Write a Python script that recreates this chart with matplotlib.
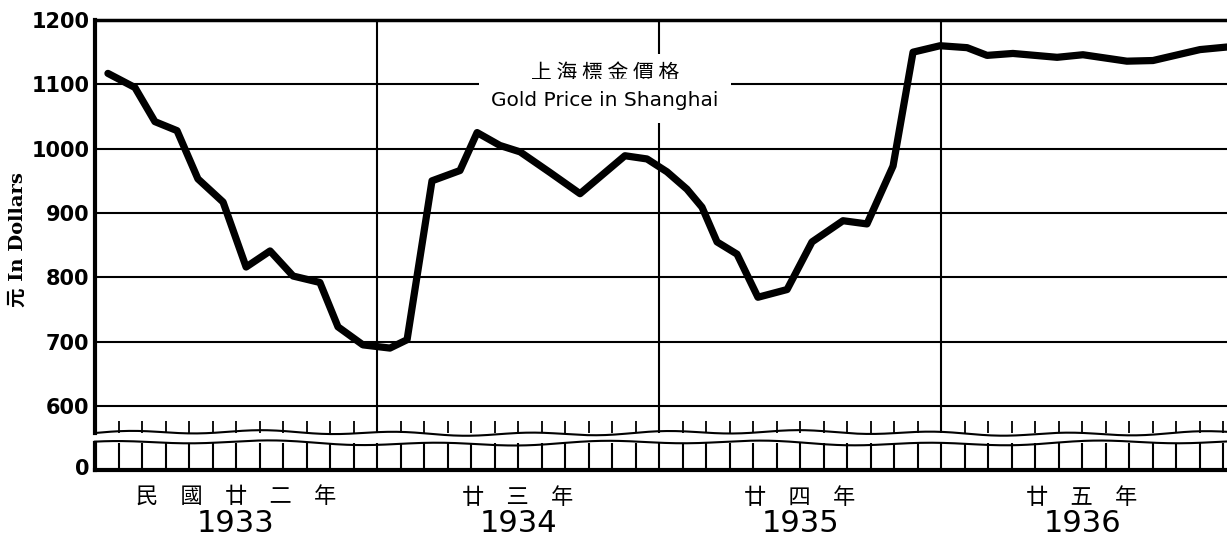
import numpy as np
import matplotlib.pyplot as plt

# months counted from Jan 1933 (fractional), price in dollars
months = [0.55, 1.70, 2.55, 3.49, 4.38, 5.45, 6.43, 7.45, 8.43, 9.57,
          10.34, 11.40, 12.55, 13.28, 14.34, 15.53, 16.26, 17.23, 18.09, 19.36,
          20.64, 22.55, 23.49, 24.34, 25.19, 25.83, 26.47, 27.32, 28.21, 29.45,
          30.51, 31.83, 32.85, 33.96, 34.81, 35.96, 37.11, 37.96, 39.06, 40.94,
          42.04, 43.91, 45.02, 47.02, 48.17]
prices = [1117, 1095, 1042, 1028, 953, 917, 816, 841, 802, 792,
          723, 695, 690, 703, 950, 966, 1025, 1005, 995, 963,
          930, 989, 984, 964, 937, 909, 855, 836, 769, 781,
          855, 888, 883, 973, 1150, 1160, 1157, 1145, 1148, 1142,
          1146, 1136, 1137, 1154, 1158]

year_mid = [6, 18, 30, 42]
year_cn = ["民　國　廿　二　年", "廿　三　年", "廿　四　年", "廿　五　年"]
year_en = ["1933", "1934", "1935", "1936"]
grid_vals = [600, 700, 800, 900, 1000, 1100, 1200]

W, H = 1227, 539
X_END = 48.17
Y_LOW = 558

fig = plt.figure(figsize=(W / 100, H / 100), dpi=100)
ax = fig.add_axes([95 / W, 1 - 433 / H, 1 - 95 / W, (433 - 20) / H])
axb = fig.add_axes([95 / W, 1 - 470 / H, 1 - 95 / W, 27 / H])

ax.set_xlim(0, X_END)
ax.set_ylim(Y_LOW, 1200)
ax.hlines(grid_vals[:-1], 0, X_END, color="black", lw=1.5)
ax.vlines([12, 24, 36], Y_LOW, 1200, color="black", lw=1.5)
ax.vlines(range(1, 49), Y_LOW, Y_LOW + 18, color="black", lw=1.3)

# wavy break line
xw = np.linspace(0, X_END, 500)
ax.plot(xw, Y_LOW + 2.5 * np.sin(xw * 1.1) + 2 * np.sin(xw * 0.27),
        color="black", lw=1.5, clip_on=False)

ax.plot(months, prices, color="black", lw=5.2,
        solid_joinstyle="round", solid_capstyle="round")

for s in ["right", "bottom"]:
    ax.spines[s].set_visible(False)
ax.spines["top"].set_linewidth(2.5)
ax.spines["left"].set_linewidth(3)
ax.set_xticks([])
ax.set_yticks(grid_vals)
ax.set_yticklabels([str(v) for v in grid_vals], fontsize=15, fontweight="bold")
ax.tick_params(axis="y", length=0, pad=4)

ax.text(0.4505, 0.872, "上 海 標 金 價 格", transform=ax.transAxes,
        ha="center", va="center", fontsize=15, family=["Noto Sans CJK TC"],
        bbox=dict(facecolor="white", edgecolor="none", pad=6))
ax.text(0.4505, 0.804, "Gold Price in Shanghai", transform=ax.transAxes,
        ha="center", va="center", fontsize=14.5, family=["DejaVu Sans"],
        bbox=dict(facecolor="white", edgecolor="none", pad=9))

# bottom strip with zero
axb.set_xlim(0, X_END)
axb.set_ylim(0, 1)
axb.vlines(range(0, 49), 0, 1, color="black", lw=1.5)
axb.plot(xw, 1 + 0.06 * np.sin(xw * 0.9 + 1) + 0.05 * np.sin(xw * 0.31),
         color="black", lw=1.5, clip_on=False)
for s in ["right", "top"]:
    axb.spines[s].set_visible(False)
axb.spines["bottom"].set_linewidth(3)
axb.spines["left"].set_linewidth(3)
axb.set_xticks([])
axb.set_yticks([0.1])
axb.set_yticklabels(["0"], fontsize=15, fontweight="bold")
axb.tick_params(axis="y", length=0, pad=4)

for m, cn, en in zip(year_mid, year_cn, year_en):
    axb.annotate(cn, xy=(m, 0), xycoords=("data", "axes fraction"),
                 xytext=(0, -27 * 0.72), textcoords="offset points",
                 ha="center", va="center", fontsize=16,
                 family=["Noto Sans CJK TC"])
    axb.annotate(en, xy=(m, 0), xycoords=("data", "axes fraction"),
                 xytext=(0, -53 * 0.72), textcoords="offset points",
                 ha="center", va="center", fontsize=22, family=["DejaVu Sans"])

fig.text(18 / W, 1 - 240 / H, "元 In Dollars", rotation=90, ha="center", va="center",
         fontsize=14, fontweight="bold", family=["DejaVu Serif", "Noto Sans CJK TC"])

fig.savefig("out.png", dpi=100)
